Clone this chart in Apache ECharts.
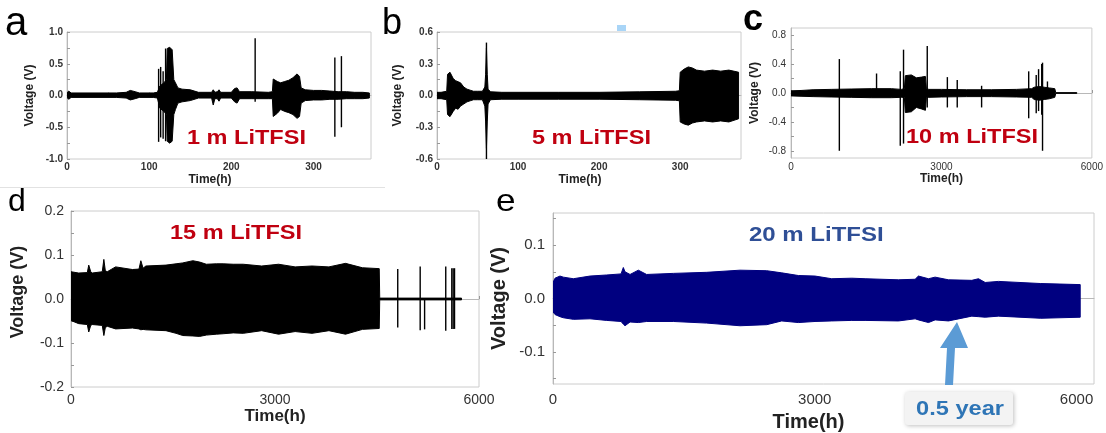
<!DOCTYPE html>
<html><head><meta charset="utf-8">
<script src="https://cdn.jsdelivr.net/npm/echarts@6/dist/echarts.min.js"></script>
<style>html,body{margin:0;padding:0;background:#fff}#c{width:1106px;height:433px}</style>
</head><body><div id="c"></div>
<script>
// ---- Panel a: 1 m LiTFSI (envelope of oscillation) ----
var aT  = [0, 2, 5, 60, 72, 77, 83, 88, 105, 110, 113, 118, 121, 122, 125, 128, 130, 132, 135, 140, 150, 160, 176, 178, 180, 183, 185, 187, 200, 204, 207, 210, 225, 245, 250, 251, 256, 260, 265, 270, 275, 280, 283, 285, 290, 300, 310, 320, 330, 340, 350, 360, 368];
var aHi = [0.04, 0.07, 0.04, 0.04, 0.05, 0.08, 0.06, 0.04, 0.04, 0.05, 0.15, 0.2, 0.25, 0.74, 0.76, 0.72, 0.25, 0.2, 0.12, 0.1, 0.09, 0.05, 0.05, 0.09, 0.05, 0.06, 0.09, 0.05, 0.05, 0.11, 0.12, 0.06, 0.06, 0.05, 0.06, 0.26, 0.22, 0.2, 0.22, 0.24, 0.28, 0.34, 0.3, 0.12, 0.09, 0.08, 0.08, 0.07, 0.06, 0.06, 0.05, 0.05, 0.04];
var aLo = [-0.03, -0.06, -0.03, -0.03, -0.04, -0.07, -0.05, -0.03, -0.03, -0.04, -0.2, -0.25, -0.3, -0.72, -0.75, -0.72, -0.3, -0.22, -0.12, -0.1, -0.08, -0.04, -0.04, -0.15, -0.05, -0.05, -0.09, -0.04, -0.04, -0.1, -0.12, -0.05, -0.05, -0.05, -0.05, -0.33, -0.28, -0.22, -0.25, -0.27, -0.3, -0.36, -0.33, -0.12, -0.08, -0.07, -0.07, -0.06, -0.06, -0.05, -0.05, -0.05, -0.04];
var aSpT  = [111.5, 114, 117, 120, 229, 326, 334];
var aSpHi = [0.42, 0.45, 0.38, 0.74, 0.9, 0.6, 0.62];
var aSpLo = [-0.73, -0.66, -0.68, -0.72, -0.1, -0.65, -0.5];

// ---- Panel b: 5 m LiTFSI ----
var bT  = [0, 5, 12, 13, 16, 20, 23, 26, 29, 33, 37, 41, 45, 50, 56, 59, 60, 61, 62, 63, 66, 80, 100, 150, 200, 250, 294, 299, 300, 305, 310, 315, 320, 330, 340, 350, 360, 372];
var bHi = [0.03, 0.03, 0.04, 0.2, 0.22, 0.16, 0.14, 0.13, 0.12, 0.08, 0.06, 0.05, 0.04, 0.04, 0.04, 0.08, 0.2, 0.45, 0.2, 0.06, 0.035, 0.03, 0.03, 0.03, 0.03, 0.035, 0.04, 0.045, 0.22, 0.25, 0.27, 0.26, 0.24, 0.23, 0.24, 0.23, 0.24, 0.22];
var bLo = [-0.03, -0.03, -0.04, -0.18, -0.2, -0.15, -0.12, -0.13, -0.1, -0.08, -0.06, -0.05, -0.04, -0.04, -0.04, -0.1, -0.25, -0.5, -0.25, -0.08, -0.04, -0.035, -0.035, -0.035, -0.035, -0.04, -0.045, -0.05, -0.25, -0.27, -0.28, -0.26, -0.25, -0.24, -0.25, -0.24, -0.25, -0.22];
var bSpT  = [61];
var bSpHi = [0.5];
var bSpLo = [-0.6];

// ---- Panel c: 10 m LiTFSI ----
var cT  = [0, 200, 440, 800, 1200, 1600, 2000, 2200, 2260, 2280, 2400, 2500, 2600, 2680, 2700, 2750, 3000, 3500, 4000, 4500, 4800, 4850, 4950, 5050, 5150, 5260, 5280, 5700];
var cHi = [0.03, 0.035, 0.045, 0.05, 0.055, 0.06, 0.06, 0.05, 0.06, 0.24, 0.25, 0.21, 0.22, 0.23, 0.06, 0.05, 0.05, 0.045, 0.045, 0.05, 0.06, 0.08, 0.09, 0.08, 0.07, 0.06, 0.005, 0.005];
var cLo = [-0.04, -0.045, -0.05, -0.055, -0.06, -0.065, -0.065, -0.06, -0.06, -0.27, -0.26, -0.2, -0.22, -0.24, -0.06, -0.06, -0.055, -0.05, -0.05, -0.055, -0.06, -0.09, -0.1, -0.09, -0.08, -0.06, -0.005, -0.005];
var cSpT  = [964, 1706, 2179, 2244, 2717, 3118, 3315, 3801, 4740, 4890, 4937, 5000, 5016, 5114];
var cSpHi = [0.47, 0.27, 0.3, 0.6, 0.65, 0.22, 0.18, 0.1, 0.3, 0.25, 0.33, 0.4, 0.42, 0.16];
var cSpLo = [-0.8, -0.02, -0.73, -0.7, -0.2, -0.2, -0.2, -0.2, -0.35, -0.28, -0.25, -0.3, -0.8, -0.05];

// ---- Panel d: 15 m LiTFSI ----
var dT  = [0, 113, 240, 261, 290, 311, 460, 483, 505, 533, 656, 903, 1000, 1027, 1060, 1101, 1397, 1545, 1644, 1792, 1891, 1990, 2138, 2237, 2385, 2533, 2804, 3052, 3296, 3545, 3793, 4037, 4286, 4533, 4540, 5743];
var dHi = [0.062, 0.059, 0.06, 0.077, 0.062, 0.059, 0.062, 0.09, 0.064, 0.062, 0.073, 0.067, 0.068, 0.087, 0.07, 0.075, 0.077, 0.08, 0.082, 0.087, 0.084, 0.079, 0.08, 0.08, 0.079, 0.079, 0.075, 0.079, 0.073, 0.075, 0.073, 0.081, 0.071, 0.069, 0.002, 0.002];
var dLo = [-0.049, -0.056, -0.058, -0.075, -0.06, -0.058, -0.06, -0.083, -0.065, -0.062, -0.068, -0.066, -0.068, -0.07, -0.069, -0.07, -0.072, -0.078, -0.083, -0.084, -0.085, -0.082, -0.08, -0.079, -0.077, -0.078, -0.072, -0.08, -0.074, -0.078, -0.072, -0.08, -0.069, -0.067, -0.002, -0.002];
var dSpT  = [4805, 5135, 5200, 5511, 5600, 5620, 5640];
var dSpHi = [0.068, 0.074, 0.0, 0.074, 0.07, 0.07, 0.07];
var dSpLo = [-0.065, -0.071, -0.069, -0.072, -0.068, -0.068, -0.068];

// ---- Panel e: 20 m LiTFSI ----
var eT  = [0, 23, 80, 118, 233, 424, 615, 780, 806, 825, 883, 978, 1073, 1379, 1761, 2143, 2449, 2621, 2812, 3003, 3194, 3424, 3577, 3959, 4150, 4188, 4303, 4379, 4532, 4800, 4876, 4953, 5105, 5590, 6042];
var eHi = [0.03, 0.038, 0.042, 0.04, 0.037, 0.042, 0.044, 0.046, 0.058, 0.05, 0.045, 0.053, 0.045, 0.047, 0.049, 0.053, 0.052, 0.048, 0.043, 0.042, 0.037, 0.038, 0.037, 0.035, 0.036, 0.042, 0.037, 0.04, 0.035, 0.034, 0.037, 0.03, 0.032, 0.028, 0.026];
var eLo = [-0.025, -0.03, -0.034, -0.036, -0.039, -0.038, -0.041, -0.043, -0.048, -0.051, -0.044, -0.045, -0.043, -0.043, -0.046, -0.051, -0.049, -0.042, -0.045, -0.043, -0.042, -0.041, -0.041, -0.042, -0.038, -0.04, -0.045, -0.04, -0.042, -0.033, -0.034, -0.035, -0.033, -0.037, -0.035];

// ---- tick labels ----
var aXLabels = [0, 100, 200, 300];
var aYLabels = [-1.0, -0.5, 0.0, 0.5, 1.0];
var bXLabels = [0, 100, 200, 300];
var bYLabels = [-0.6, -0.3, 0.0, 0.3, 0.6];
var cXLabels = [0, 3000, 6000];
var cYLabels = [-0.8, -0.4, 0.0, 0.4, 0.8];
var dXLabels = [0, 3000, 6000];
var dYLabels = [-0.2, -0.1, 0.0, 0.1, 0.2];
var eXLabels = [0, 3000, 6000];
var eYLabels = [-0.1, 0.0, 0.1];
var panelTitles = ['1 m LiTFSI', '5 m LiTFSI', '10 m LiTFSI', '15 m LiTFSI', '20 m LiTFSI'];

var FONT = '"Liberation Sans", Arial, sans-serif';
var chart = echarts.init(document.getElementById('c'), null, {renderer: 'canvas'});

function fmt1(v) { return v.toFixed(1); }
function fmt0(v) { return String(Math.round(v)); }

function band(gi, T, H, L, color) {
  return {
    type: 'custom', xAxisIndex: gi, yAxisIndex: gi, silent: true, clip: true,
    data: [[T[0], 0]],
    renderItem: function (params, api) {
      var pts = [], i;
      for (i = 0; i < T.length; i++) pts.push(api.coord([T[i], H[i]]));
      for (i = T.length - 1; i >= 0; i--) pts.push(api.coord([T[i], L[i]]));
      return {type: 'polygon', shape: {points: pts}, style: {fill: color, stroke: color, lineWidth: 1}};
    }
  };
}
function spikes(gi, T, H, L, color) {
  return {
    type: 'custom', xAxisIndex: gi, yAxisIndex: gi, silent: true, clip: true,
    data: T.map(function (t, i) { return [t, H[i], L[i]]; }),
    renderItem: function (params, api) {
      var p1 = api.coord([api.value(0), api.value(1)]);
      var p2 = api.coord([api.value(0), api.value(2)]);
      return {type: 'line', shape: {x1: p1[0], y1: p1[1], x2: p2[0], y2: p2[1]}, style: {stroke: color, lineWidth: 1.4}};
    }
  };
}
function xAxis(gi, min, max, labels, ticks, fs, bold, margin, nameFs, nameGap, shift, f) {
  return {
    type: 'value', gridIndex: gi, min: min, max: max,
    name: 'Time(h)', nameLocation: 'middle', nameGap: nameGap,
    nameTextStyle: {fontFamily: FONT, fontWeight: 'bold', fontSize: nameFs, color: '#222',
      padding: shift > 0 ? [0, 2 * shift, 0, 0] : [0, 0, 0, -2 * shift]},
    axisLine: {show: true, lineStyle: {color: '#b8b8b8', width: 1}},
    axisTick: {show: true, inside: true, length: 3, customValues: ticks, lineStyle: {color: '#999'}},
    axisLabel: {customValues: labels, fontFamily: FONT, fontSize: fs, fontWeight: bold ? 'bold' : 'normal', color: '#333', margin: margin, formatter: f},
    splitLine: {show: false}
  };
}
function yAxis(gi, min, max, labels, ticks, fs, bold, margin, nameFs, nameGap, up, f) {
  return {
    type: 'value', gridIndex: gi, min: min, max: max,
    name: 'Voltage (V)', nameLocation: 'middle', nameGap: nameGap,
    nameTextStyle: {fontFamily: FONT, fontWeight: 'bold', fontSize: nameFs, color: '#222',
      padding: [0, 0, 0, 2 * up]},
    axisLine: {show: true, lineStyle: {color: '#b8b8b8', width: 1}},
    axisTick: {show: true, inside: true, length: 3, customValues: ticks, lineStyle: {color: '#999'}},
    axisLabel: {customValues: labels, fontFamily: FONT, fontSize: fs, fontWeight: bold ? 'bold' : 'normal', color: '#333', margin: margin, formatter: f},
    splitLine: {show: false}
  };
}
function txt(x, y, s, size, color, weight, align, sx) {
  return {type: 'text', x: x, y: y, z: 50, silent: true, scaleX: sx || 1,
    style: {text: s, fill: color, font: (weight || 'normal') + ' ' + size + 'px ' + FONT, align: align || 'left', verticalAlign: 'middle'}};
}

var gridStyle = {show: true, borderColor: '#cccccc', borderWidth: 1, backgroundColor: 'transparent'};

var option = {
  animation: false,
  backgroundColor: '#ffffff',
  grid: [
    Object.assign({left: 67, top: 32, width: 304, height: 127}, gridStyle),
    Object.assign({left: 437, top: 32, width: 304, height: 127}, gridStyle),
    Object.assign({left: 791, top: 28, width: 301, height: 130}, gridStyle),
    Object.assign({left: 71, top: 211, width: 408, height: 176}, gridStyle),
    Object.assign({left: 553, top: 213, width: 541, height: 172}, gridStyle)
  ],
  xAxis: [
    xAxis(0, 0, 370, aXLabels, [0, 50, 100, 150, 200, 250, 300, 350], 10, true, 3, 12, 15, 9, fmt0),
    xAxis(1, 0, 375, bXLabels, [0, 50, 100, 150, 200, 250, 300, 350], 10, true, 3, 12, 15, 9, fmt0),
    xAxis(2, 0, 6000, cXLabels, [0, 1500, 3000, 4500, 6000], 10, false, 4, 12, 14, 0, fmt0),
    xAxis(3, 0, 6000, dXLabels, [0, 1500, 3000, 4500, 6000], 14, false, 6, 17, 20, 0, fmt0),
    xAxis(4, 0, 6200, eXLabels, [0, 1500, 3000, 4500, 6000], 15, false, 8, 20, 28, 15, fmt0)
  ],
  yAxis: [
    yAxis(0, -1, 1, aYLabels, [-1, -0.75, -0.5, -0.25, 0, 0.25, 0.5, 0.75, 1], 10, true, 4, 12, 31, 0, fmt1),
    yAxis(1, -0.6, 0.6, bYLabels, [-0.6, -0.45, -0.3, -0.15, 0, 0.15, 0.3, 0.45, 0.6], 10, true, 4, 12, 33, 0, fmt1),
    yAxis(2, -0.9, 0.9, cYLabels, [-0.8, -0.6, -0.4, -0.2, 0, 0.2, 0.4, 0.6, 0.8], 10, false, 5, 12, 30, 0, fmt1),
    yAxis(3, -0.2, 0.2, dYLabels, [-0.2, -0.15, -0.1, -0.05, 0, 0.05, 0.1, 0.15, 0.2], 14, false, 7, 18, 44, 7, fmt1),
    yAxis(4, -0.16, 0.16, eYLabels, [-0.15, -0.1, -0.05, 0, 0.05, 0.1, 0.15], 15, false, 8, 20, 44, 0, fmt1)
  ],
  series: [
    band(0, aT, aHi, aLo, '#000000'), spikes(0, aSpT, aSpHi, aSpLo, '#000000'),
    band(1, bT, bHi, bLo, '#000000'), spikes(1, bSpT, bSpHi, bSpLo, '#000000'),
    band(2, cT, cHi, cLo, '#000000'), spikes(2, cSpT, cSpHi, cSpLo, '#000000'),
    band(3, dT, dHi, dLo, '#000000'), spikes(3, dSpT, dSpHi, dSpLo, '#000000'),
    band(4, eT, eHi, eLo, '#000080')
  ],
  graphic: [
    {type: 'line', silent: true, shape: {x1: 0, y1: 187.5, x2: 385, y2: 187.5}, style: {stroke: '#e2e2e2', lineWidth: 1}},
    {type: 'rect', silent: true, shape: {x: 617, y: 25, width: 9, height: 6}, style: {fill: '#a9d5f7'}},
    txt(5, 24, 'a', 40, '#000'),
    txt(382, 24, 'b', 36, '#000'),
    txt(743, 20, 'c', 36, '#000', 'bold'),
    txt(8, 202, 'd', 32, '#000'),
    txt(496, 202, 'e', 32, '#000', 'normal', 'left', 1.1),
    txt(187, 138, panelTitles[0], 21, '#c00010', 'bold', 'left', 1.12),
    txt(532, 138, panelTitles[1], 21, '#c00010', 'bold', 'left', 1.12),
    txt(906, 137, panelTitles[2], 21, '#c00010', 'bold', 'left', 1.12),
    txt(170, 233, panelTitles[3], 21, '#c00010', 'bold', 'left', 1.12),
    txt(749, 235, panelTitles[4], 20, '#2f4f96', 'bold', 'left', 1.2),
    {type: 'polygon', silent: true, z: 50, shape: {points: [[945, 385], [953, 385], [955, 348], [968, 348], [957, 322], [940, 348], [947, 348]]}, style: {fill: '#5b9bd5'}},
    {type: 'rect', silent: true, z: 49, shape: {x: 905, y: 392, width: 108, height: 33, r: 3},
      style: {fill: '#f3f3f3', shadowBlur: 4, shadowColor: 'rgba(0,0,0,0.25)', shadowOffsetX: 1, shadowOffsetY: 1}},
    txt(960, 409, '0.5 year', 20, '#2e75b6', 'bold', 'center', 1.18)
  ]
};
chart.setOption(option);
</script>
</body></html>
